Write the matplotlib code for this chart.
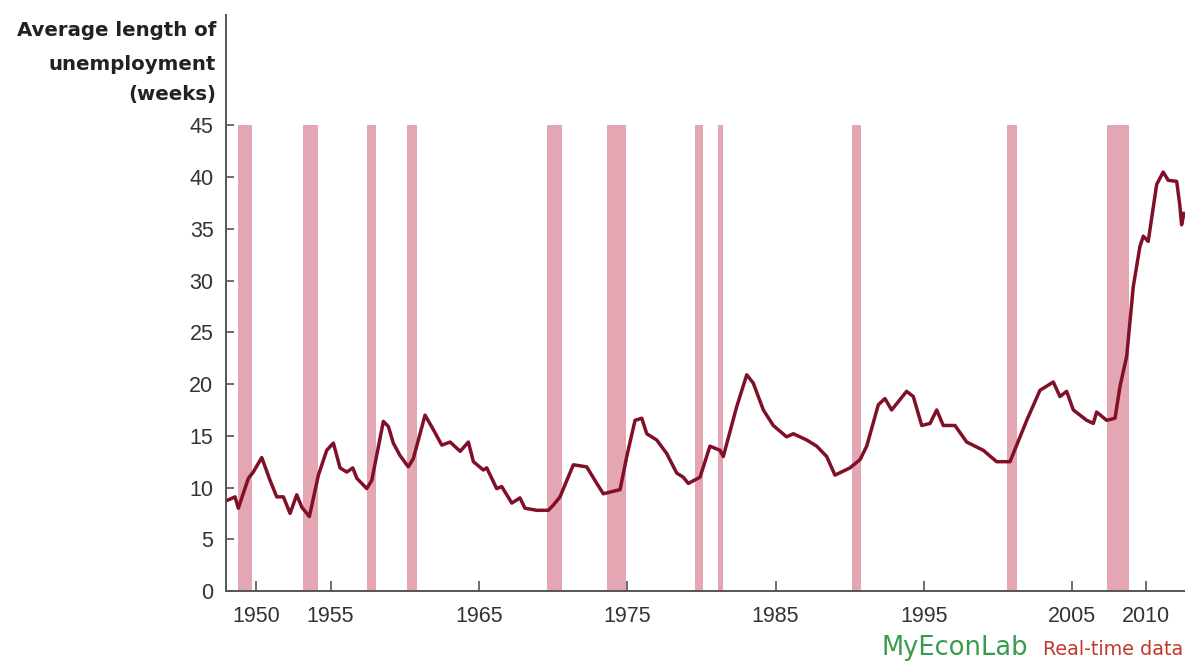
import matplotlib
matplotlib.use("Agg")
import matplotlib.pyplot as plt

# Average duration of unemployment (weeks), sampled along the series
years = [
    1948.09, 1948.56, 1948.78, 1949.46, 1949.79, 1950.36, 1950.92, 1951.37,
    1951.82, 1952.27, 1952.72, 1953.06, 1953.57, 1954.18, 1954.74, 1955.19,
    1955.64, 1956.09, 1956.50, 1956.77, 1957.44, 1957.78, 1958.56, 1958.90,
    1959.23, 1959.68, 1960.24, 1960.58, 1960.92, 1961.37, 1961.93, 1962.50,
    1963.06, 1963.74, 1964.29, 1964.63, 1965.30, 1965.53, 1966.20, 1966.54,
    1967.22, 1967.77, 1968.11, 1968.90, 1969.68, 1970.02, 1970.47, 1971.37,
    1972.27, 1972.95, 1973.39, 1974.52, 1974.97, 1975.53, 1975.98, 1976.32,
    1976.99, 1977.66, 1978.34, 1978.78, 1979.12, 1979.91, 1980.58, 1981.26,
    1981.48, 1982.38, 1983.06, 1983.50, 1984.18, 1984.85, 1985.75, 1986.20,
    1987.10, 1987.78, 1988.45, 1989.01, 1990.02, 1990.70, 1991.15, 1991.93,
    1992.38, 1992.83, 1993.84, 1994.29, 1994.86, 1995.42, 1995.87, 1996.31,
    1997.10, 1997.89, 1998.45, 1999.01, 1999.91, 2000.81, 2001.94, 2002.83,
    2003.73, 2004.18, 2004.63, 2005.08, 2005.98, 2006.43, 2006.65, 2007.33,
    2007.89, 2008.23, 2008.68, 2009.12, 2009.57, 2009.80, 2010.13, 2010.70,
    2011.14, 2011.48, 2012.05, 2012.26, 2012.38, 2012.54,
]
weeks = [
    8.8, 9.1, 8.0, 10.9, 11.5, 12.9, 10.7, 9.1,
    9.1, 7.5, 9.3, 8.1, 7.2, 11.2, 13.6, 14.3,
    11.9, 11.5, 11.9, 10.9, 9.9, 10.7, 16.4, 15.9,
    14.3, 13.1, 12.0, 12.8, 14.6, 17.0, 15.6, 14.1,
    14.4, 13.5, 14.4, 12.5, 11.7, 11.9, 9.9, 10.1,
    8.5, 9.0, 8.0, 7.8, 7.8, 8.3, 9.1, 12.2,
    12.0, 10.4, 9.4, 9.8, 13.0, 16.5, 16.7, 15.2,
    14.6, 13.3, 11.4, 11.0, 10.4, 11.0, 14.0, 13.6,
    13.0, 17.8, 20.9, 20.1, 17.5, 16.0, 14.9, 15.2,
    14.6, 14.0, 13.0, 11.2, 11.9, 12.7, 14.0, 18.0,
    18.6, 17.5, 19.3, 18.8, 16.0, 16.2, 17.5, 16.0,
    16.0, 14.4, 14.0, 13.6, 12.5, 12.5, 16.5, 19.4,
    20.2, 18.8, 19.3, 17.5, 16.5, 16.2, 17.3, 16.5,
    16.7, 19.8, 22.7, 29.4, 33.3, 34.3, 33.8, 39.3,
    40.5, 39.7, 39.6, 37.3, 35.4, 36.5,
]

# Recession periods (start, end) in years
recession_start = [1948.78, 1953.12, 1957.44, 1960.14, 1969.61, 1973.62,
                   1979.57, 1981.14, 1990.14, 2000.59, 2007.37]
recession_end = [1949.69, 1954.18, 1958.05, 1960.85, 1970.59, 1974.90,
                 1980.13, 1981.48, 1990.75, 2001.30, 2008.85]

x_ticks = [1950, 1955, 1965, 1975, 1985, 1995, 2005, 2010]
y_ticks = [0, 5, 10, 15, 20, 25, 30, 35, 40, 45]

W, H = 1185, 665
fig = plt.figure(figsize=(W / 100, H / 100), dpi=100)
fig.patch.set_facecolor("white")

ax_left, ax_right, ax_bottom, ax_top = 226, 1185, 591, 15
ax = fig.add_axes([ax_left / W, 1 - ax_bottom / H,
                   (ax_right - ax_left) / W, (ax_bottom - ax_top) / H])

band_top = 45
for s, e in zip(recession_start, recession_end):
    ax.fill_between([s, e], 0, band_top, color="#e4a6b2", lw=0, zorder=1)

ax.plot(years, weeks, color="#801028", lw=2.5, solid_joinstyle="round", zorder=3)

ax.set_xlim(1947.95, 2012.61)
ax.set_ylim(0, 55.68)
ax.set_xticks(x_ticks)
ax.set_yticks(y_ticks)

tick_font = dict(family="Liberation Sans", size=15.5)
ax.set_xticklabels([str(t) for t in x_ticks], color="#333333", **tick_font)
ax.set_yticklabels([str(t) for t in y_ticks], color="#333333", **tick_font)

for side in ("top", "right"):
    ax.spines[side].set_visible(False)
for side in ("left", "bottom"):
    ax.spines[side].set_color("#555555")
    ax.spines[side].set_linewidth(1.4)

ax.tick_params(axis="x", direction="in", length=7, width=1.2, color="#555555", pad=11)
ax.tick_params(axis="y", direction="in", length=6, width=1.2, color="#555555", pad=9)

# Axis title, right-aligned beside the vertical axis
title_font = dict(family="DejaVu Sans", size=14.2, weight="bold", color="#222222")
for text, base in (("Average length of", 36.5), ("unemployment", 69.5), ("(weeks)", 100)):
    fig.text(216 / W, 1 - base / H, text, ha="right", va="baseline", **title_font)

# Source branding at the lower right
fig.text(1183 / W, 1 - 655 / H, "Real-time data", ha="right", va="baseline",
         family="DejaVu Sans", size=13.8, color="#c0392b")
fig.text(1028 / W, 1 - 655 / H, "MyEconLab", ha="right", va="baseline",
         family="DejaVu Sans", size=18.5, color="#3a9a4e")

fig.savefig("out.png", dpi=100, facecolor="white")
